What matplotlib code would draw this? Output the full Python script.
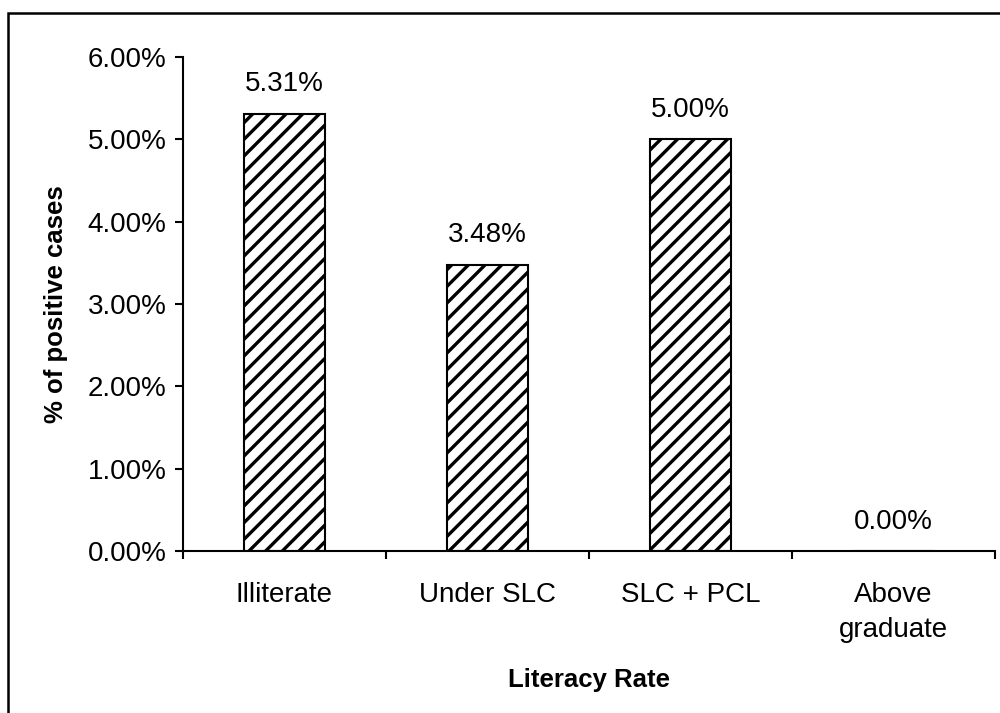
import matplotlib
matplotlib.use("Agg")
import matplotlib.pyplot as plt
from matplotlib.patches import Rectangle
from matplotlib.ticker import FixedLocator, FuncFormatter

categories = ["Illiterate", "Under SLC", "SLC + PCL", "Above\ngraduate"]
values = [5.31, 3.48, 5.00, 0.00]
y_ticks = [0, 1, 2, 3, 4, 5, 6]

plt.rcParams['font.family'] = ['Liberation Sans', 'DejaVu Sans']
plt.rcParams['hatch.linewidth'] = 2.4

fig = plt.figure(figsize=(10, 7.13), dpi=100)
ax = fig.add_axes([0.183, 0.2272, 0.812, 0.6928])

x = list(range(len(categories)))
ax.bar(x, values, width=0.4, color='white', edgecolor='black',
       linewidth=1.5, hatch='//')

for xi, v in zip(x, values):
    ax.text(xi, v + 0.2, '%.2f%%' % v, ha='center', va='bottom', fontsize=20)

ax.set_xlim(-0.5, 3.5)
ax.set_ylim(0, 6)
ax.yaxis.set_major_locator(FixedLocator(y_ticks))
ax.yaxis.set_major_formatter(FuncFormatter(lambda v, p: '%.2f%%' % v))

ax.set_xticks(x)
ax.set_xticklabels(categories, fontsize=20, linespacing=1.45)
ax.set_xticks([i - 0.5 for i in range(len(categories) + 1)], minor=True)
ax.tick_params(axis='x', which='major', length=0, pad=22)
ax.tick_params(axis='x', which='minor', length=6, width=1.5, direction='out')
ax.tick_params(axis='y', length=6, width=1.5, direction='out', labelsize=20, pad=6)

for side in ['top', 'right']:
    ax.spines[side].set_visible(False)
for side in ['left', 'bottom']:
    ax.spines[side].set_linewidth(1.5)

ax.set_ylabel('% of positive cases', fontsize=18.5, fontweight='bold', labelpad=14)
ax.set_xlabel('Literacy Rate', fontsize=18.5, fontweight='bold', labelpad=18)

# outer chart-area border
fig.patches.append(Rectangle((0.008, -0.05), 1.2, 1.032, transform=fig.transFigure,
                             fill=False, edgecolor='black', linewidth=1.8))

plt.savefig('out.png', dpi=100)
